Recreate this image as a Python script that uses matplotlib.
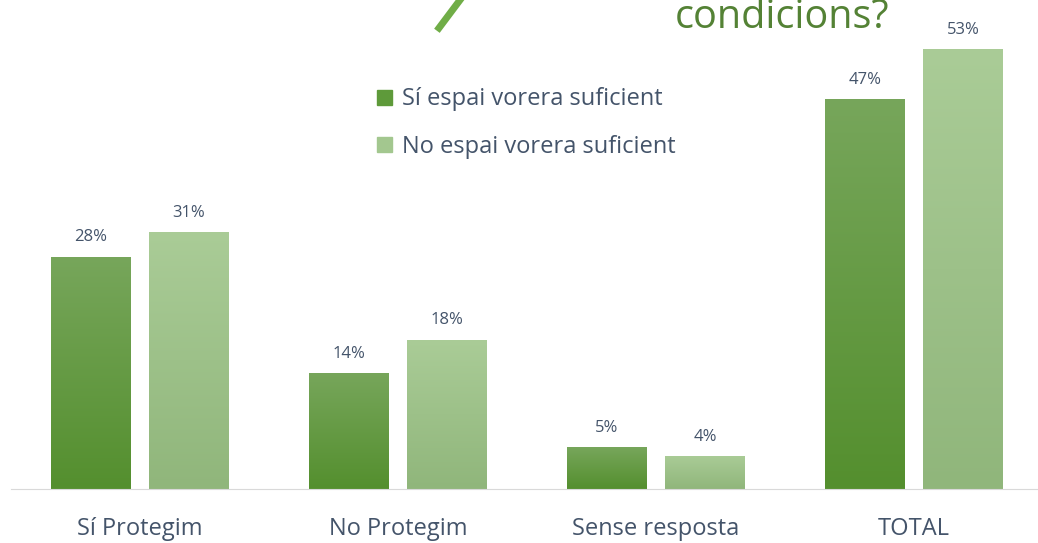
import matplotlib.pyplot as plt
import numpy as np
from matplotlib.colors import LinearSegmentedColormap
from matplotlib.lines import Line2D
from matplotlib.patches import Rectangle

categories = ['Sí Protegim', 'No Protegim', 'Sense resposta', 'TOTAL']
si_espai = [28, 14, 5, 47]
no_espai = [31, 18, 4, 53]
series_names = ['Sí espai vorera suficient', 'No espai vorera suficient']

plt.rcParams['font.family'] = ['Open Sans', 'DejaVu Sans']
text_col = '#44546A'

dark_cmap = LinearSegmentedColormap.from_list('dark', ['#548F2E', '#77A65B'])
light_cmap = LinearSegmentedColormap.from_list('light', ['#90B67B', '#AACC97'])

fig = plt.figure(figsize=(10.38, 5.43), dpi=100)
ax = fig.add_axes([11 / 1038, 54 / 543, 1032 / 1038, 489 / 543])

x = np.arange(len(categories))
w = 0.31
off = 0.19
grad = np.linspace(0, 1, 256).reshape(-1, 1)

for vals, dx, cmap in [(si_espai, -off, dark_cmap), (no_espai, off, light_cmap)]:
    bars = ax.bar(x + dx, vals, width=w, color='none', edgecolor='none')
    for b, v in zip(bars, vals):
        x0 = b.get_x()
        im = ax.imshow(grad, extent=[x0, x0 + w, 0, v], origin='lower',
                       cmap=cmap, aspect='auto', zorder=2)
        im.set_clip_path(b)
        ax.annotate(f'{v}%', (x0 + w / 2, v), xytext=(0, 8), textcoords='offset points',
                    ha='center', va='bottom', fontsize=12, color=text_col)

ax.set_xlim(-0.5, 3.5)
ax.set_ylim(0, 58.9)
for s in ['top', 'right', 'left']:
    ax.spines[s].set_visible(False)
ax.spines['bottom'].set_color('#D9D9D9')
ax.set_yticks([])
ax.set_xticks(x)
ax.set_xticklabels(categories, fontsize=17, color=text_col)
ax.tick_params(axis='x', length=0, pad=20)

handles = [Rectangle((0, 0), 1, 1, color='#5E9A3A'), Rectangle((0, 0), 1, 1, color='#A3C78F')]
ax.legend(handles, series_names, loc='upper left', bbox_to_anchor=(357 / 1032, 411 / 489),
          frameon=False, fontsize=17, labelcolor=text_col, handlelength=0.6,
          handleheight=0.6, handletextpad=0.45, labelspacing=1.0, borderaxespad=0)

fig.text(889 / 1038, 1 - 28 / 543, 'condicions?', ha='right', va='baseline',
         fontsize=28.5, color='#548235')
fig.add_artist(Line2D([439 / 1038, 460 / 1038], [1 - 28 / 543, 1.0], color='#70AD47',
                      linewidth=5, transform=fig.transFigure))

fig.savefig('out.png', dpi=100)
